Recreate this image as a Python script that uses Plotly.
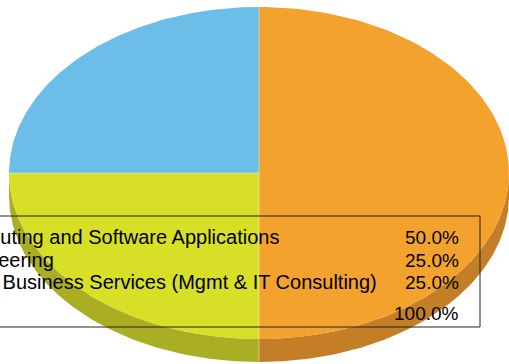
import numpy as np
import plotly.graph_objects as go

# data
labels = [
    "Computing and Software Applications",
    "Engineering",
    "Other Business Services (Mgmt & IT Consulting)",
]
values = [50, 25, 25]
top_colors = ["#F4A22E", "#D7DF27", "#6CBDE8"]
side_colors = ["#C47E27", "#A9AE22", "#5A9DC0"]
total_label = "Total"

W, H = 509, 364
cx, cy, rx, ry, depth = 259, 173, 250, 166, 23


def arc(a0, a1, dy=0, n=120):
    t = np.linspace(a0, a1, n)
    return cx + rx * np.sin(t), cy - ry * np.cos(t) + dy


total = sum(values)
bounds = np.concatenate([[0], np.cumsum(values)]) / total * 2 * np.pi

fig = go.Figure()

# sides (only the front half is visible)
for i in range(len(values)):
    s0, s1 = max(bounds[i], np.pi / 2), min(bounds[i + 1], 3 * np.pi / 2)
    if s1 <= s0:
        continue
    xt, yt = arc(s0, s1)
    xb, yb = arc(s1, s0, depth)
    fig.add_trace(go.Scatter(
        x=np.concatenate([xt, xb]), y=np.concatenate([yt, yb]),
        fill="toself", fillcolor=side_colors[i], mode="lines",
        line=dict(width=0), hoverinfo="skip", showlegend=False))

# seams on the side
for b in bounds[1:-1]:
    if np.pi / 2 < b < 3 * np.pi / 2:
        x0, y0 = arc(b, b, 0, 1)
        x1, y1 = arc(b, b, depth, 1)
        fig.add_trace(go.Scatter(
            x=[x0[0], x1[0]], y=[y0[0], y1[0]], mode="lines",
            line=dict(color="rgba(255,255,255,0.45)", width=1),
            hoverinfo="skip", showlegend=False))

# top faces
for i in range(len(values)):
    xa, ya = arc(bounds[i], bounds[i + 1])
    fig.add_trace(go.Scatter(
        x=np.concatenate([[cx], xa, [cx]]), y=np.concatenate([[cy], ya, [cy]]),
        fill="toself", fillcolor=top_colors[i], mode="lines",
        line=dict(width=0), hoverinfo="skip", showlegend=False))

# separators on the top face
for b in bounds[:-1]:
    xa, ya = arc(b, b, 0, 1)
    fig.add_trace(go.Scatter(
        x=[cx, xa[0]], y=[cy, ya[0]], mode="lines",
        line=dict(color="rgba(255,255,255,0.45)", width=1),
        hoverinfo="skip", showlegend=False))

# legend table
font = dict(family="Liberation Sans, Arial, sans-serif", size=20, color="black")
pfont = dict(font, size=19)
rows_y = [237, 260, 282, 313]
pcts = [f"{v / total * 100:.1f}%" for v in values] + [f"{100.0:.1f}%"]
names = labels + [total_label]
for name, pct, y in zip(names, pcts, rows_y):
    fig.add_annotation(x=-55 / W, xref="paper", y=1 - y / H, yref="paper",
                       text=name, showarrow=False, xanchor="left",
                       yanchor="middle", font=font)
    fig.add_annotation(x=461 / W, xref="paper", y=1 - y / H, yref="paper",
                       text=pct, showarrow=False, xanchor="right",
                       yanchor="middle", font=pfont)

fig.add_shape(type="rect", xref="x", yref="y", x0=-20, x1=480, y0=216, y1=327,
              line=dict(color="#222222", width=1), fillcolor="rgba(0,0,0,0)")

fig.update_layout(
    width=W, height=H, margin=dict(l=0, r=0, t=0, b=0),
    paper_bgcolor="white", plot_bgcolor="white",
    xaxis=dict(range=[0, W], visible=False, fixedrange=True),
    yaxis=dict(range=[H, 0], visible=False, fixedrange=True),
)

fig.write_html("out.html", config={"displayModeBar": False},
               post_script="document.body.style.margin='0';document.body.style.overflow='hidden';")
